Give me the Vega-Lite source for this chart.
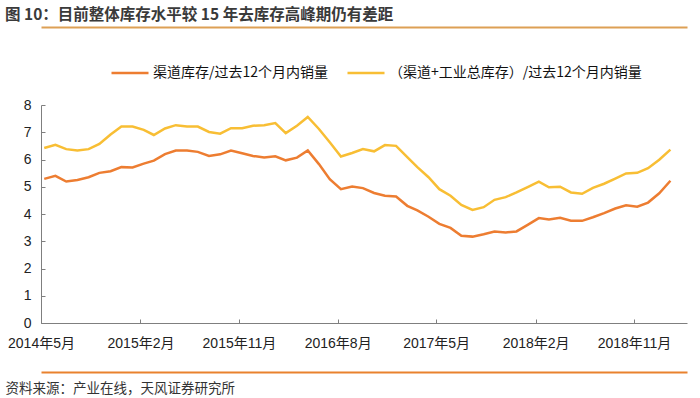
{
  "$schema": "https://vega.github.io/schema/vega-lite/v6.json",
  "width": 646,
  "height": 218,
  "autosize": {"type": "none"},
  "padding": {"left": 41, "top": 105, "right": 13, "bottom": 75},
  "background": "white",
  "title": {
    "text": "图 10：目前整体库存水平较 15 年去库存高峰期仍有差距",
    "anchor": "start",
    "frame": "group",
    "dx": -36,
    "offset": 4,
    "font": "Noto Sans CJK SC",
    "fontSize": 15.5,
    "fontWeight": "bold",
    "color": "#3a3a3a"
  },
  "config": {
    "view": {"stroke": null},
    "axis": {"grid": false},
    "axisY": {
      "domainColor": "#7f7f7f",
      "tickColor": "#7f7f7f",
      "tickSize": -4,
      "tickCount": 8,
      "labelPadding": 14,
      "labelFont": "Liberation Sans, Noto Sans CJK SC",
      "labelFontSize": 14,
      "labelColor": "#222222"
    }
  },
  "data": {
    "values": [
      {"m": "2014-05-10", "a": 5.29, "b": 6.42},
      {"m": "2014-06-10", "a": 5.40, "b": 6.54},
      {"m": "2014-07-10", "a": 5.19, "b": 6.38},
      {"m": "2014-08-10", "a": 5.25, "b": 6.33},
      {"m": "2014-09-10", "a": 5.35, "b": 6.38},
      {"m": "2014-10-10", "a": 5.51, "b": 6.57},
      {"m": "2014-11-10", "a": 5.57, "b": 6.92},
      {"m": "2014-12-10", "a": 5.72, "b": 7.21},
      {"m": "2015-01-10", "a": 5.71, "b": 7.21},
      {"m": "2015-02-10", "a": 5.85, "b": 7.09},
      {"m": "2015-03-10", "a": 5.96, "b": 6.90},
      {"m": "2015-04-10", "a": 6.20, "b": 7.14},
      {"m": "2015-05-10", "a": 6.33, "b": 7.26},
      {"m": "2015-06-10", "a": 6.33, "b": 7.21},
      {"m": "2015-07-10", "a": 6.28, "b": 7.21},
      {"m": "2015-08-10", "a": 6.13, "b": 7.01},
      {"m": "2015-09-10", "a": 6.19, "b": 6.95},
      {"m": "2015-10-10", "a": 6.33, "b": 7.15},
      {"m": "2015-11-10", "a": 6.23, "b": 7.15},
      {"m": "2015-12-10", "a": 6.13, "b": 7.24},
      {"m": "2016-01-10", "a": 6.07, "b": 7.26},
      {"m": "2016-02-10", "a": 6.12, "b": 7.34},
      {"m": "2016-03-10", "a": 5.97, "b": 6.97},
      {"m": "2016-04-10", "a": 6.07, "b": 7.24},
      {"m": "2016-05-10", "a": 6.33, "b": 7.56},
      {"m": "2016-06-10", "a": 5.83, "b": 7.12},
      {"m": "2016-07-10", "a": 5.28, "b": 6.63},
      {"m": "2016-08-10", "a": 4.91, "b": 6.11},
      {"m": "2016-09-10", "a": 5.01, "b": 6.24},
      {"m": "2016-10-10", "a": 4.95, "b": 6.38},
      {"m": "2016-11-10", "a": 4.77, "b": 6.30},
      {"m": "2016-12-10", "a": 4.67, "b": 6.53},
      {"m": "2017-01-10", "a": 4.64, "b": 6.50},
      {"m": "2017-02-10", "a": 4.30, "b": 6.09},
      {"m": "2017-03-10", "a": 4.13, "b": 5.72},
      {"m": "2017-04-10", "a": 3.90, "b": 5.35},
      {"m": "2017-05-10", "a": 3.64, "b": 4.91},
      {"m": "2017-06-10", "a": 3.49, "b": 4.67},
      {"m": "2017-07-10", "a": 3.20, "b": 4.33},
      {"m": "2017-08-10", "a": 3.17, "b": 4.15},
      {"m": "2017-09-10", "a": 3.26, "b": 4.25},
      {"m": "2017-10-10", "a": 3.36, "b": 4.52},
      {"m": "2017-11-10", "a": 3.32, "b": 4.62},
      {"m": "2017-12-10", "a": 3.36, "b": 4.79},
      {"m": "2018-01-10", "a": 3.60, "b": 4.99},
      {"m": "2018-02-10", "a": 3.85, "b": 5.19},
      {"m": "2018-03-10", "a": 3.80, "b": 4.98},
      {"m": "2018-04-10", "a": 3.86, "b": 5.00},
      {"m": "2018-05-10", "a": 3.75, "b": 4.79},
      {"m": "2018-06-10", "a": 3.75, "b": 4.74},
      {"m": "2018-07-10", "a": 3.88, "b": 4.96},
      {"m": "2018-08-10", "a": 4.03, "b": 5.11},
      {"m": "2018-09-10", "a": 4.20, "b": 5.30},
      {"m": "2018-10-10", "a": 4.32, "b": 5.49},
      {"m": "2018-11-10", "a": 4.27, "b": 5.51},
      {"m": "2018-12-10", "a": 4.42, "b": 5.68},
      {"m": "2019-01-10", "a": 4.76, "b": 5.99},
      {"m": "2019-02-10", "a": 5.22, "b": 6.36}
    ]
  },
  "layer": [
    {
      "mark": {"type": "line", "strokeWidth": 2.5},
      "encoding": {
        "x": {
          "field": "m",
          "type": "temporal",
          "scale": {
            "type": "utc",
            "domain": [
              {"year": 2014, "month": 5, "date": 1, "utc": true},
              {"year": 2019, "month": 3, "date": 28, "utc": true}
            ]
          },
          "axis": {
            "orient": "bottom",
            "values": [
              {"year": 2014, "month": 5, "date": 1, "utc": true},
              {"year": 2015, "month": 2, "date": 1, "utc": true},
              {"year": 2015, "month": 11, "date": 1, "utc": true},
              {"year": 2016, "month": 8, "date": 1, "utc": true},
              {"year": 2017, "month": 5, "date": 1, "utc": true},
              {"year": 2018, "month": 2, "date": 1, "utc": true},
              {"year": 2018, "month": 11, "date": 1, "utc": true}
            ],
            "labelExpr": "utcFormat(datum.value, '%Y年%-m月')",
            "labelFlush": false,
            "labelOverlap": false,
            "domainColor": "#7f7f7f",
            "tickColor": "#7f7f7f",
            "tickSize": -4,
            "labelPadding": 17,
            "labelFont": "Liberation Sans, Noto Sans CJK SC",
            "labelFontSize": 14,
            "labelColor": "#222222",
            "title": "资料来源：产业在线，天风证券研究所",
            "titleX": -36,
            "titleY": 65,
            "titleAlign": "left",
            "titleBaseline": "middle",
            "titleFont": "Noto Sans CJK SC",
            "titleFontSize": 13.5,
            "titleFontWeight": "normal",
            "titleColor": "#333333"
          }
        },
        "y": {
          "field": "a",
          "type": "quantitative",
          "scale": {"domain": [0, 8]},
          "title": null
        },
        "color": {
          "datum": "渠道库存/过去12个月内销量",
          "type": "nominal",
          "scale": {
            "domain": ["渠道库存/过去12个月内销量", "（渠道+工业总库存）/过去12个月内销量"],
            "range": ["#ED7D31", "#F8BE34"]
          },
          "legend": {
            "orient": "none",
            "legendX": 69,
            "legendY": -52,
            "direction": "horizontal",
            "title": null,
            "padding": 0,
            "symbolType": "stroke",
            "symbolSize": 1369,
            "symbolStrokeWidth": 2.5,
            "labelFont": "Noto Sans CJK SC",
            "labelFontSize": 14,
            "labelColor": "#111111",
            "labelOffset": 3,
            "labelLimit": 400,
            "columnPadding": 13
          }
        }
      }
    },
    {
      "mark": {"type": "line", "strokeWidth": 2.5},
      "encoding": {
        "x": {
          "field": "m",
          "type": "temporal",
          "axis": {
            "orient": "top",
            "offset": 78,
            "domainColor": "#DDA055",
            "domainWidth": 2,
            "labels": false,
            "ticks": false,
            "title": null
          }
        },
        "y": {"field": "b", "type": "quantitative", "title": null},
        "color": {"datum": "（渠道+工业总库存）/过去12个月内销量", "type": "nominal"}
      }
    },
    {
      "mark": {"type": "line", "strokeOpacity": 0},
      "encoding": {
        "x": {
          "field": "m",
          "type": "temporal",
          "axis": {
            "orient": "bottom",
            "offset": 49,
            "domainColor": "#E9822E",
            "domainWidth": 2,
            "labels": false,
            "ticks": false,
            "title": null
          }
        },
        "y": {"field": "a", "type": "quantitative", "title": null}
      }
    }
  ],
  "resolve": {"axis": {"x": "independent"}}
}
